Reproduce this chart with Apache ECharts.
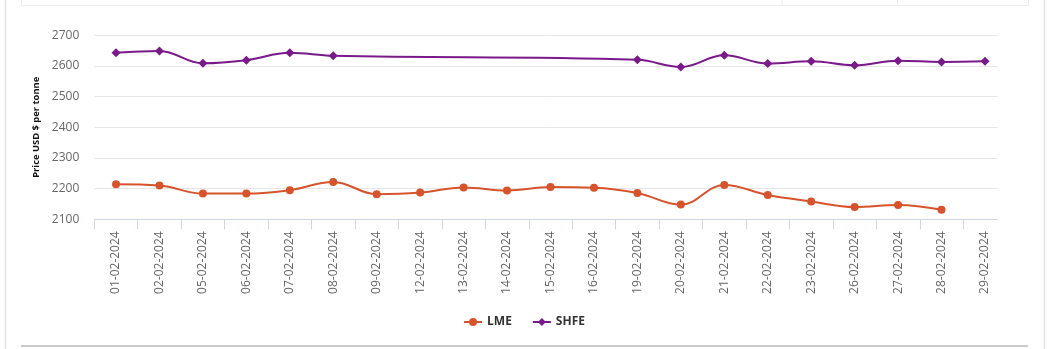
<!DOCTYPE html>
<html>
<head>
<meta charset="utf-8">
<script src="https://cdn.jsdelivr.net/npm/echarts@6/dist/echarts.min.js"></script>
<style>
html,body{margin:0;padding:0;background:#fff;}
#chart{width:1048px;height:349px;}
</style>
</head>
<body>
<div id="chart"></div>
<script>
const categories = ["01-02-2024","02-02-2024","05-02-2024","06-02-2024","07-02-2024","08-02-2024","09-02-2024","12-02-2024","13-02-2024","14-02-2024","15-02-2024","16-02-2024","19-02-2024","20-02-2024","21-02-2024","22-02-2024","23-02-2024","26-02-2024","27-02-2024","28-02-2024","29-02-2024"];
const lmeValues = [2214,2210,2184,2184,2195,2222,2182,2187,2204,2194,2205,2203,2186,2148,2212,2179,2158,2140,2147,2131,null];
const shfeValues = [2643,2649,2609,2619,2643,2633,null,null,null,null,null,null,2620,2597,2635,2608,2615,2602,2617,2613,2615];
const yAxisTitle = "Price USD $ per tonne";

const chart = echarts.init(document.getElementById('chart'), null, {renderer:'canvas'});
const font = '"Open Sans", "Noto Sans", sans-serif';
chart.setOption({
  backgroundColor: '#ffffff',
  animation: false,
  grid: {left: 94.3, right: 41.3, top: 35.3, bottom: 129.7},
  legend: {
    bottom: 16,
    left: 'center',
    itemWidth: 18,
    itemHeight: 10,
    itemGap: 20,
    textStyle: {color: '#333333', fontFamily: font, fontSize: 12, fontWeight: 'bold'},
    data: ['LME', 'SHFE']
  },
  xAxis: {
    type: 'category',
    data: categories,
    boundaryGap: true,
    axisLine: {lineStyle: {color: '#ccd6eb', width: 1}},
    axisTick: {show: true, length: 10, lineStyle: {color: '#ccd6eb'}},
    axisLabel: {rotate: 90, margin: 12, color: '#666666', fontFamily: font, fontSize: 12, interval: 0}
  },
  yAxis: {
    type: 'value',
    min: 2100, max: 2700, interval: 100,
    name: yAxisTitle,
    nameLocation: 'middle',
    nameGap: 50,
    nameTextStyle: {color: '#111111', fontFamily: font, fontSize: 9.4, fontWeight: 'bold'},
    axisLine: {show: false},
    axisTick: {show: false},
    axisLabel: {color: '#666666', fontFamily: font, fontSize: 12, margin: 15, formatter: function (v) { return String(v); }},
    splitLine: {lineStyle: {color: '#e6e6e6', width: 1}}
  },
  series: [
    {
      name: 'LME', type: 'line', data: lmeValues, smooth: 0.4,
      symbol: 'circle', symbolSize: 8, showAllSymbol: true,
      itemStyle: {color: '#d6532b'},
      lineStyle: {color: '#d6532b', width: 2}
    },
    {
      name: 'SHFE', type: 'line', data: shfeValues, smooth: 0.4, connectNulls: true,
      symbol: 'diamond', symbolSize: 9, showAllSymbol: true,
      itemStyle: {color: '#7a1a8a'},
      lineStyle: {color: '#7a1a8a', width: 2}
    }
  ],
  graphic: [
    {type:'rect', z: 100, shape:{x:997.5, y:28, width:12, height:210}, style:{fill:'#ffffff'}},
    {type:'line', shape:{x1:5.5, y1:0, x2:5.5, y2:349}, style:{stroke:'#e2e2e2', lineWidth:1.5}},
    {type:'line', shape:{x1:1044.5, y1:0, x2:1044.5, y2:349}, style:{stroke:'#e2e2e2', lineWidth:1.5}},
    {type:'rect', shape:{x:21.5, y:-2, width:1007, height:7.5}, style:{fill:'none', stroke:'#ececec', lineWidth:1}},
    {type:'line', shape:{x1:782, y1:0, x2:782, y2:5}, style:{stroke:'#ececec', lineWidth:1}},
    {type:'line', shape:{x1:897.5, y1:0, x2:897.5, y2:5}, style:{stroke:'#ececec', lineWidth:1}},
    {type:'line', shape:{x1:21, y1:346, x2:1028, y2:346}, style:{stroke:'#b8b8b8', lineWidth:1.5}}
  ]
});
</script>
</body>
</html>
